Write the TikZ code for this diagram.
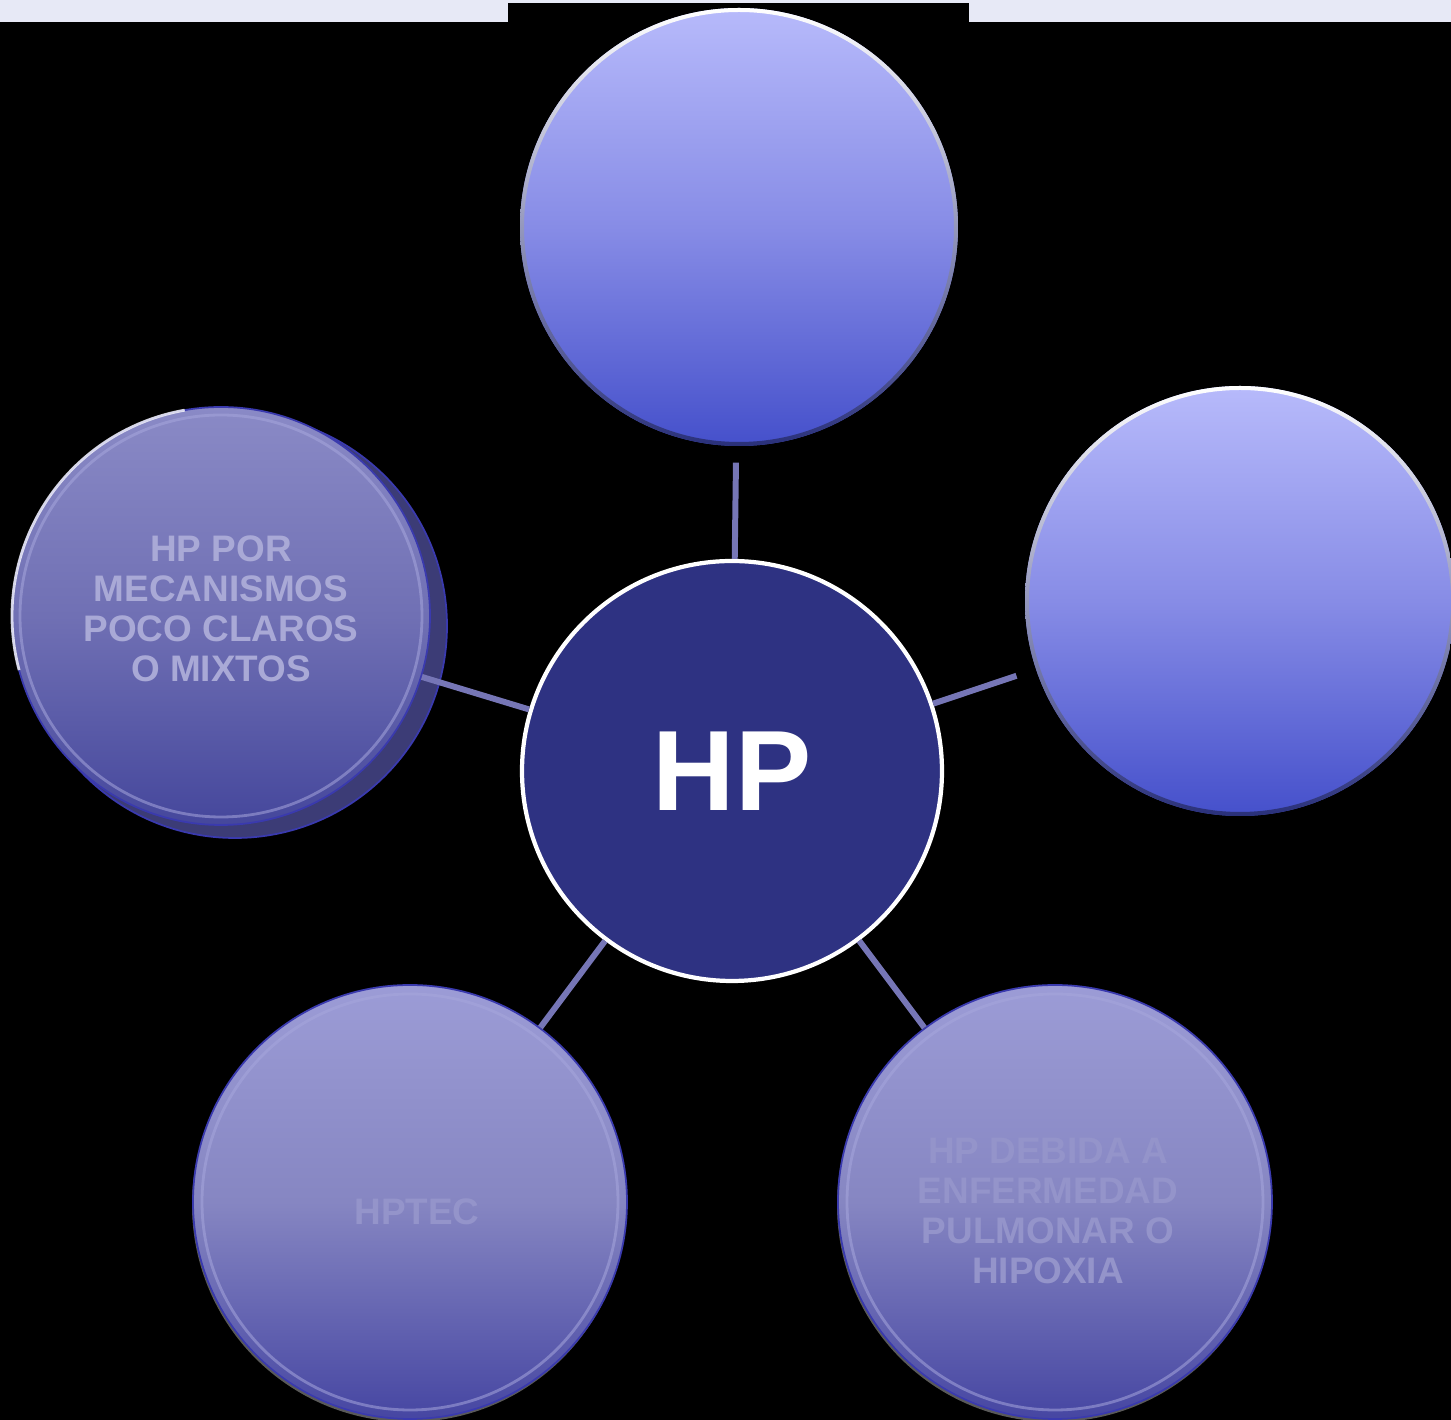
\documentclass[tikz,border=0pt]{standalone}
\usepackage{fontspec}
\setmainfont{Liberation Sans}
\usepackage{xcolor}
\usepackage{tikz}

\definecolor{navy}{HTML}{2E3282}
\definecolor{stripgrey}{HTML}{E7E9F6}
\definecolor{glosstop}{HTML}{B7BAFB}
\definecolor{glossmid}{HTML}{878CE6}
\definecolor{glossbot}{HTML}{4550CB}
\definecolor{bevtop}{HTML}{9C9CD6}
\definecolor{bevmid}{HTML}{8686C2}
\definecolor{bevbot}{HTML}{4646A2}
\definecolor{mixtop}{HTML}{8A8AC6}
\definecolor{mixmid}{HTML}{7070B4}
\definecolor{mixbot}{HTML}{45479C}
\definecolor{mixshadow}{HTML}{3C3C76}
\definecolor{rimblue}{HTML}{3A3AAE}
\definecolor{ringlight}{HTML}{A6A6DC}
\definecolor{connblue}{HTML}{7676B6}
\definecolor{mixtxt}{HTML}{A9A9D6}
\definecolor{faint}{HTML}{9494CA}

\begin{document}
\begin{tikzpicture}[
  every node/.style={circle, inner sep=0pt, align=center,
                     font=\bfseries\fontsize{10.5}{11.4}\selectfont},
  gloss/.style={top color=glosstop, bottom color=glossbot, middle color=glossmid},
  bevel/.style={top color=bevtop, bottom color=bevbot, middle color=bevmid,
                draw=rimblue, line width=0.5pt},
  flatbev/.style={top color=mixtop, bottom color=mixbot, middle color=mixmid,
                  draw=rimblue, line width=0.5pt},
  ring/.style={draw=ringlight, line width=0.8pt, opacity=0.55},
  conn/.style={draw=connblue, line width=1.7pt}
]
  \useasboundingbox (0,0) rectangle (14.51,14.20);
  \fill[black] (0,0) rectangle (14.51,14.20);
  \fill[stripgrey] (0,13.98) rectangle (14.51,14.20);
  \fill[black] (5.08,13.98) rectangle (9.69,14.17);

  % shadows
  \fill[mixshadow, draw=rimblue, line width=0.5pt] (2.35,7.94) circle (2.12cm);
  \fill[gray!70!black] (4.09,2.15) circle (2.17cm);
  \fill[gray!70!black] (10.54,2.15) circle (2.17cm);

  \node (hp) at (7.32,6.49) [fill=navy, draw=white, line width=1.2pt,
        minimum size=4.2cm, text=white,
        font=\bfseries\fontsize{32.5}{33}\selectfont] {HP};
  \node (up)       at (7.39,11.93) [gloss, minimum size=4.38cm] {};
  \node (side)     at (12.40,8.19) [gloss, minimum size=4.30cm] {};
  \node (mixtos)   at (2.21,8.04)  [flatbev, minimum size=4.18cm] {};
  \node (hptec)    at (4.10,2.18)  [bevel, minimum size=4.34cm] {};
  \node (pulmonar) at (10.55,2.18) [bevel, minimum size=4.34cm] {};

  % glossy rims and bevel rings
  \shade[top color=white, bottom color=glossbot!60!black, even odd rule]
        (up.center) circle (2.19cm) (up.center) circle (2.15cm);
  \shade[top color=white, bottom color=glossbot!60!black, even odd rule]
        (side.center) circle (2.15cm) (side.center) circle (2.11cm);
  \draw[ring] (mixtos.center) circle (2.01cm);
  \draw[ring] (hptec.center) circle (2.08cm);
  \draw[ring] (pulmonar.center) circle (2.08cm);
  \draw[white, line width=0.8pt, opacity=0.8] (mixtos.center) ++(100:2.09cm)
        arc[start angle=100, end angle=195, radius=2.09cm];

  % texts
  \node (mixtoslbl) at ([yshift=0.07cm]mixtos.center) [text=mixtxt]
        {HP POR\\MECANISMOS\\POCO CLAROS\\O MIXTOS};
  \node (hpteclbl) at ([shift={(0.07,-0.10)}]hptec.center) [text=faint] {HPTEC};
  \node (pulmonarlbl) at ([shift={(-0.07,-0.09)}]pulmonar.center) [text=faint]
        {HP DEBIDA A\\ENFERMEDAD\\PULMONAR O\\HIPOXIA};

  \draw[conn, shorten >=0.16cm] (hp) -- (up);
  \draw[conn, shorten >=0.20cm] (hp) -- (side);
  \draw[conn] (hp) -- (mixtos);
  \draw[conn] (hp) -- (hptec);
  \draw[conn] (hp) -- (pulmonar);
\end{tikzpicture}
\end{document}
